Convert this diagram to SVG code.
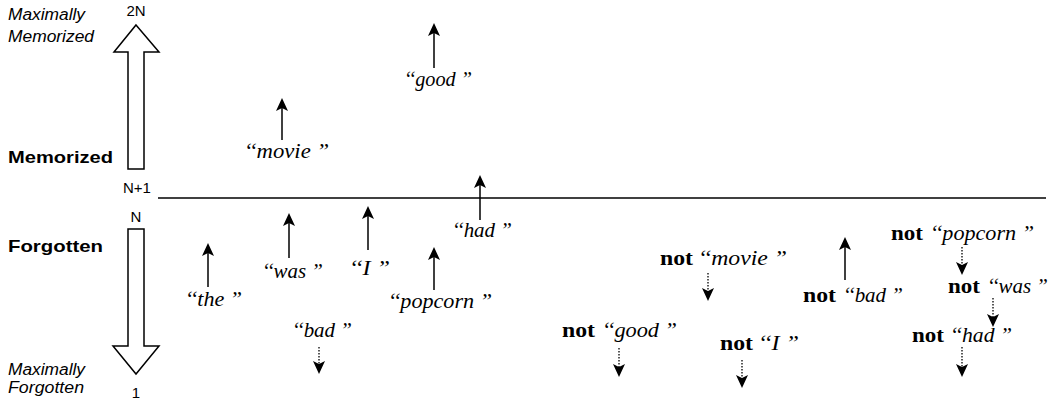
<svg xmlns="http://www.w3.org/2000/svg" width="1054" height="401" viewBox="0 0 1054 401">
<style>
.sans{font-family:"Liberation Sans",Arial,sans-serif;fill:#000}
.it{font-style:italic}
.bd{font-weight:bold}
.num{font-family:"Liberation Sans",Arial,sans-serif;font-size:15px;text-anchor:middle;fill:#000}
.w{font-family:"Liberation Serif","Times New Roman",serif;font-style:italic;font-size:20px;fill:#000}
.nt{font-family:"Liberation Serif","Times New Roman",serif;font-weight:bold;font-size:20px;fill:#000}
.big{fill:#fff;stroke:#000;stroke-width:1.5;stroke-linejoin:miter}
.solid{stroke:#000;stroke-width:1.5;fill:none}
.dot{stroke:#000;stroke-width:1.3;stroke-dasharray:1.5 1.5;fill:none}
</style>
<defs>
<marker id="ah" markerUnits="userSpaceOnUse" viewBox="0 0 13 12" markerWidth="13" markerHeight="12" refX="3" refY="6" orient="auto">
<path d="M0,0 L13,6 L0,12 L3,6 z" fill="#000"/>
</marker>
</defs>
<rect width="1054" height="401" fill="#fff"/>

<g id="scale">
<polygon class="big" points="136,25 159,52 144,52 144,169 128,169 128,52 114,52"/>
<polygon class="big" points="128,229 144,229 144,346 159,346 136,374 113,346 128,346"/>
<text class="num" x="136" y="16">2N</text>
<text class="num" x="137" y="193">N+1</text>
<text class="num" x="136" y="222">N</text>
<text class="num" x="136" y="398">1</text>
<text class="sans it" font-size="16" x="8" y="20" textLength="77" lengthAdjust="spacingAndGlyphs">Maximally</text>
<text class="sans it" font-size="16" x="8" y="42" textLength="86" lengthAdjust="spacingAndGlyphs">Memorized</text>
<text class="sans bd" font-size="17" x="8" y="163" textLength="105" lengthAdjust="spacingAndGlyphs">Memorized</text>
<text class="sans bd" font-size="17" x="8" y="252" textLength="95" lengthAdjust="spacingAndGlyphs">Forgotten</text>
<text class="sans it" font-size="16" x="8" y="375" textLength="77" lengthAdjust="spacingAndGlyphs">Maximally</text>
<text class="sans it" font-size="16" x="8" y="393" textLength="76" lengthAdjust="spacingAndGlyphs">Forgotten</text>
</g>

<g id="connectors">
<line x1="158" y1="198" x2="1046" y2="198" stroke="#000" stroke-width="1.5"/>
<line class="solid" x1="434" y1="68" x2="434" y2="33" marker-end="url(#ah)"/>
<line class="solid" x1="282" y1="140" x2="282" y2="108" marker-end="url(#ah)"/>
<line class="solid" x1="480" y1="220" x2="480" y2="185" marker-end="url(#ah)"/>
<line class="solid" x1="208" y1="287" x2="208" y2="253" marker-end="url(#ah)"/>
<line class="solid" x1="289" y1="258" x2="289" y2="223" marker-end="url(#ah)"/>
<line class="solid" x1="368" y1="250" x2="368" y2="216" marker-end="url(#ah)"/>
<line class="solid" x1="434" y1="290" x2="434" y2="257" marker-end="url(#ah)"/>
<line class="solid" x1="845" y1="280" x2="845" y2="247" marker-end="url(#ah)"/>
<line class="dot" x1="319" y1="347" x2="319" y2="364" marker-end="url(#ah)"/>
<line class="dot" x1="708" y1="273" x2="708" y2="291" marker-end="url(#ah)"/>
<line class="dot" x1="619" y1="348" x2="619" y2="367" marker-end="url(#ah)"/>
<line class="dot" x1="742" y1="360" x2="742" y2="378" marker-end="url(#ah)"/>
<line class="dot" x1="962" y1="247" x2="962" y2="265" marker-end="url(#ah)"/>
<line class="dot" x1="993" y1="298" x2="993" y2="317" marker-end="url(#ah)"/>
<line class="dot" x1="962" y1="347" x2="962" y2="367" marker-end="url(#ah)"/>
</g>

<g id="w-good"><text class="w" x="404" y="86" textLength="68" lengthAdjust="spacingAndGlyphs">‘‘good ”</text></g>
<g id="w-movie"><text class="w" x="244" y="158" textLength="85" lengthAdjust="spacingAndGlyphs">‘‘movie ”</text></g>
<g id="w-had"><text class="w" x="452" y="237" textLength="60" lengthAdjust="spacingAndGlyphs">‘‘had ”</text></g>
<g id="w-the"><text class="w" x="185" y="306" textLength="57" lengthAdjust="spacingAndGlyphs">‘‘the ”</text></g>
<g id="w-was"><text class="w" x="262" y="278" textLength="61" lengthAdjust="spacingAndGlyphs">‘‘was ”</text></g>
<g id="w-I"><text class="w" x="349" y="275" textLength="41" lengthAdjust="spacingAndGlyphs">‘‘I ”</text></g>
<g id="w-popcorn"><text class="w" x="388" y="308" textLength="104" lengthAdjust="spacingAndGlyphs">‘‘popcorn ”</text></g>
<g id="w-bad"><text class="w" x="292" y="337" textLength="60" lengthAdjust="spacingAndGlyphs">‘‘bad ”</text></g>

<g id="n-movie"><text><tspan class="nt" x="660" y="265" textLength="33" lengthAdjust="spacingAndGlyphs">not</tspan><tspan class="w" x="698" y="265" textLength="89" lengthAdjust="spacingAndGlyphs">‘‘movie ”</tspan></text></g>
<g id="n-good"><text><tspan class="nt" x="562" y="337" textLength="33" lengthAdjust="spacingAndGlyphs">not</tspan><tspan class="w" x="602" y="337" textLength="75" lengthAdjust="spacingAndGlyphs">‘‘good ”</tspan></text></g>
<g id="n-I"><text><tspan class="nt" x="720" y="350" textLength="33" lengthAdjust="spacingAndGlyphs">not</tspan><tspan class="w" x="758" y="350" textLength="41" lengthAdjust="spacingAndGlyphs">‘‘I ”</tspan></text></g>
<g id="n-bad"><text><tspan class="nt" x="803" y="302" textLength="33" lengthAdjust="spacingAndGlyphs">not</tspan><tspan class="w" x="843" y="302" textLength="60" lengthAdjust="spacingAndGlyphs">‘‘bad ”</tspan></text></g>
<g id="n-popcorn"><text><tspan class="nt" x="891" y="240" textLength="32" lengthAdjust="spacingAndGlyphs">not</tspan><tspan class="w" x="930" y="240" textLength="104" lengthAdjust="spacingAndGlyphs">‘‘popcorn ”</tspan></text></g>
<g id="n-was"><text><tspan class="nt" x="948" y="293" textLength="32" lengthAdjust="spacingAndGlyphs">not</tspan><tspan class="w" x="987" y="293" textLength="61" lengthAdjust="spacingAndGlyphs">‘‘was ”</tspan></text></g>
<g id="n-had"><text><tspan class="nt" x="912" y="342" textLength="32" lengthAdjust="spacingAndGlyphs">not</tspan><tspan class="w" x="950" y="342" textLength="62" lengthAdjust="spacingAndGlyphs">‘‘had ”</tspan></text></g>
</svg>
